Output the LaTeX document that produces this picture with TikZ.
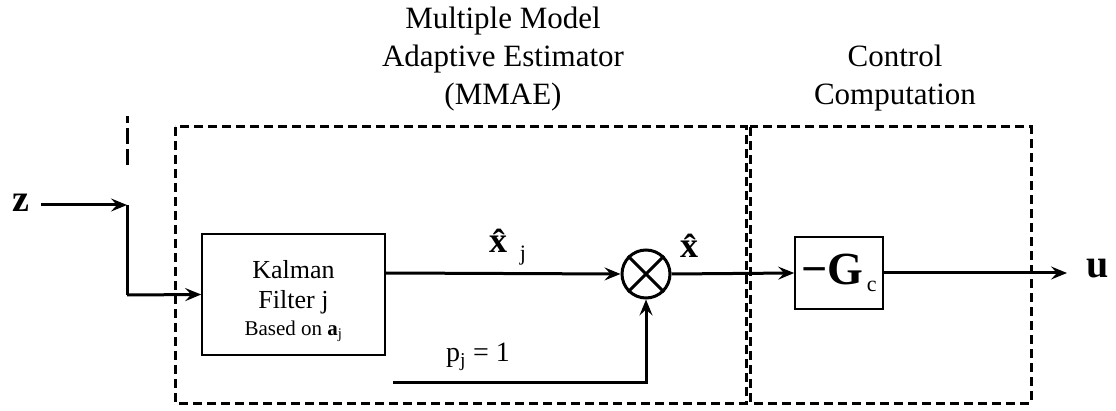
\documentclass[tikz,border=0pt]{standalone}
\usepackage{fontspec}
\setmainfont{Liberation Serif}
\usetikzlibrary{arrows.meta,positioning}

\tikzset{
  dashbox/.style={draw,line width=3pt,dash pattern=on 9pt off 5pt},
  blockbox/.style={draw,line width=1.6pt,align=center,inner sep=0pt},
  sig/.style={line width=3pt,-{Stealth[length=16pt,width=13pt,inset=6pt]}},
  wire/.style={line width=3pt},
  ttl/.style={align=center,inner sep=0pt,font=\fontsize{31}{38}\selectfont},
}

\begin{document}
\begin{tikzpicture}[x=1pt,y=-1pt]
  \useasboundingbox (0,0) rectangle (1116,411);
  % enclosing blocks
  \draw[dashbox] (175,127) rectangle (746,403);
  \draw[dashbox] (750,127) rectangle (1031,403);
  \node[ttl,anchor=south] (ttlmmae) at (503,111) {Multiple Model\\Adaptive Estimator\\(MMAE)};
  \node[ttl,anchor=south] (ttlctrl) at (895,111) {Control\\Computation};
  % measurement input
  \node[font=\fontsize{38}{38}\selectfont\bfseries] (zin) at (21,203) {z};
  \coordinate (zsplit) at (127,205);
  \coordinate (zbend) at (127,295);
  \draw[line width=3pt,dash pattern=on 16pt off 5pt] (127,165) -- (127,116);
  % blocks
  \node[blockbox,minimum width=183pt,minimum height=121pt] (kf) at (293.5,294.5) {};
  \node[font=\fontsize{26}{30}\selectfont,align=center] (kftxt) at (293.5,287)
    {Kalman\\Filter j};
  \node[font=\fontsize{21}{21}\selectfont,below=3pt of kftxt,inner sep=0pt] (kfbase)
    {Based on \textbf{a}\textsubscript{j}};
  \node[draw,circle,line width=3pt,minimum size=48pt,inner sep=0pt] (mult) at (646,274) {};
  \draw[line width=3pt] (mult.north west) -- (mult.south east)
    (mult.north east) -- (mult.south west);
  \node[blockbox,minimum width=88pt,minimum height=72pt] (gain) at (839,273)
    {{\fontsize{46}{46}\selectfont\textbf{−G}}\raisebox{-7pt}{\fontsize{22}{22}\selectfont\,c}};
  \node[font=\fontsize{40}{40}\selectfont\bfseries] (uout) at (1098,269) {u};
  \coordinate (pstart) at (393,382);
  \coordinate (pbend) at (646,382);
  % signals
  \draw[sig] (zin.east) ++(8,2) -- (zsplit);
  \draw[wire] (zsplit) -- (zbend);
  \draw[sig] (zbend) -- (kf.west);
  \draw[sig] (kf.east |- 0,273) -- (mult.west);
  \draw[sig] (pstart) -- (pbend) -- (mult.south);
  \draw[sig] (mult.east) -- (gain.west);
  \draw[sig] (gain.east) -- (1067,273);
  % signal labels
  \node[font=\fontsize{36}{36}\selectfont] (xj) at (501,241) {\textbf{\^{x}}};
  \node[font=\fontsize{22}{22}\selectfont] (xjsub) at (523,256) {j};
  \node[font=\fontsize{28}{28}\selectfont] (pj) at (478,357) {p\textsubscript{j} = 1};
  \node[font=\fontsize{36}{36}\selectfont] (xhat) at (692,246) {\textbf{\^{x}}};
\end{tikzpicture}
\end{document}
